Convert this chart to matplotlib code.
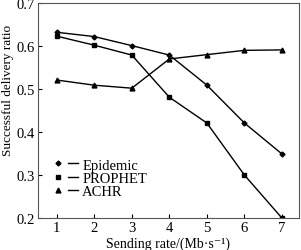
import matplotlib
matplotlib.use("Agg")
import matplotlib.pyplot as plt
from matplotlib.lines import Line2D
from matplotlib.legend_handler import HandlerTuple

plt.rcParams['font.family'] = ['Liberation Serif', 'DejaVu Serif']

x = [1, 2, 3, 4, 5, 6, 7]
epidemic = [0.632, 0.622, 0.601, 0.579, 0.509, 0.421, 0.349]
prophet = [0.623, 0.602, 0.579, 0.481, 0.421, 0.300, 0.200]
achr = [0.521, 0.509, 0.502, 0.570, 0.580, 0.590, 0.591]
names = ['Epidemic', 'PROPHET', 'ACHR']
xticks = [1, 2, 3, 4, 5, 6, 7]
yticks = [0.2, 0.3, 0.4, 0.5, 0.6, 0.7]

fig = plt.figure(figsize=(3.01, 2.51), dpi=100)
ax = fig.add_axes([0.126, 0.127, 0.867, 0.857])

series = [epidemic, prophet, achr]
markers = ['D', 's', '^']
msizes = [2.5, 3.5, 3.5]
handles = []
for ys, m, ms in zip(series, markers, msizes):
    ax.plot(x, ys, color='black', lw=1.0, marker=m, markersize=ms)
    hm = Line2D([], [], color='black', lw=0, marker=m, markersize=ms)
    hl = Line2D([], [], color='black', lw=1.0)
    handles.append((hm, hl))

ax.set_xlim(0.5, 7.45)
ax.set_ylim(0.2, 0.7)
ax.set_xticks(xticks)
ax.set_yticks(yticks)
ax.set_yticklabels([f"{v:.1f}" for v in yticks])
ax.tick_params(direction='in', labelsize=10.5, length=3, width=0.8, pad=2,
               top=False, right=False)
for s in ax.spines.values():
    s.set_linewidth(0.8)
    s.set_color('#555555')

ax.set_xlabel('Sending rate/(Mb\u00b7s\u207b\u00b9)', fontsize=10)
ax.xaxis.set_label_coords(0.5, -0.085, transform=ax.transAxes)
ax.xaxis.label.set_verticalalignment('top')
ax.set_ylabel('Successful delivery ratio', fontsize=9.5)
ax.yaxis.set_label_coords(-0.09, 0.6, transform=ax.transAxes)

ax.legend(handles, names, handler_map={tuple: HandlerTuple(ndivide=None, pad=0.3)},
          loc='lower left', bbox_to_anchor=(0.03, 0.06), frameon=False, fontsize=10.5,
          handlelength=1.7, handletextpad=0.3, labelspacing=0.0, borderpad=0)

fig.savefig('out.png', dpi=100)
